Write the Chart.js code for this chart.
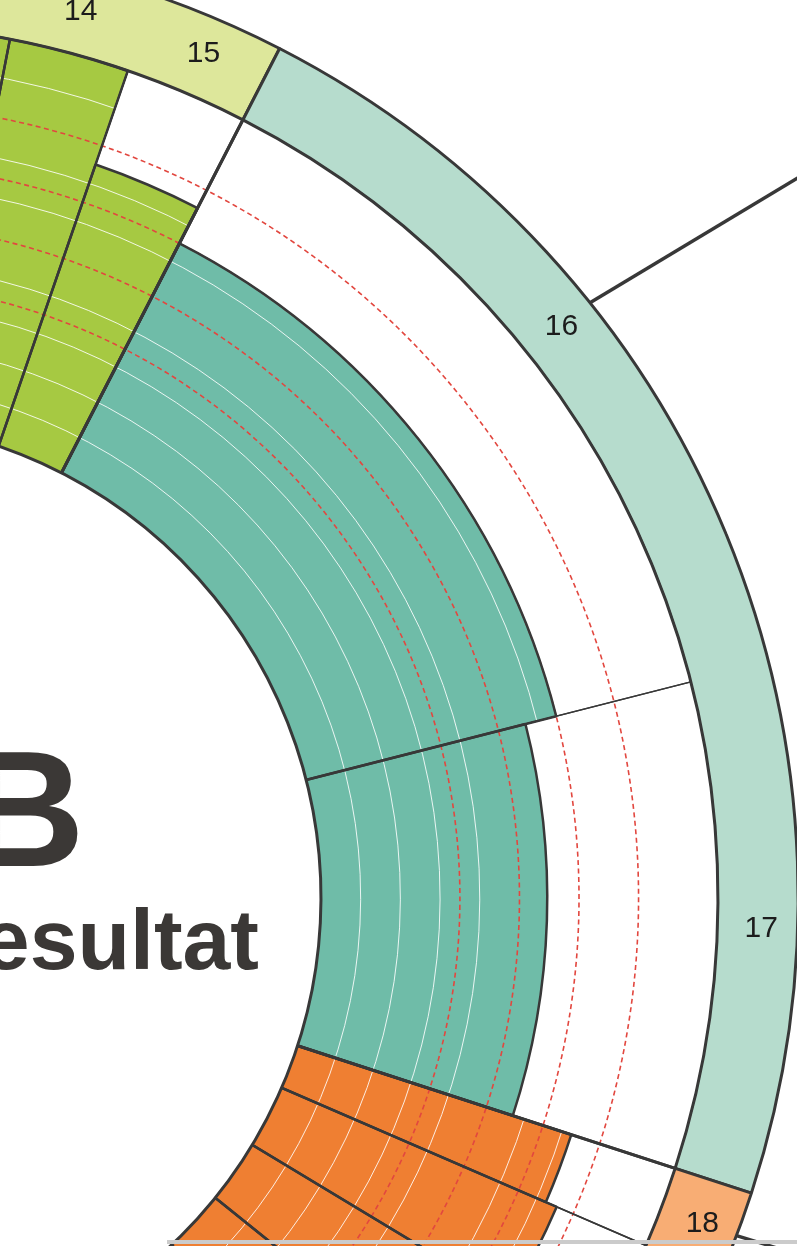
<!DOCTYPE html>
<html><head><meta charset="utf-8">
<script src="https://cdn.jsdelivr.net/npm/chart.js@4.4.1/dist/chart.umd.min.js"></script>
<style>
html,body{margin:0;padding:0;width:797px;height:1246px;overflow:hidden;background:#fff;position:relative}
#wrap{position:absolute;left:-1132px;top:-77px;width:1950px;height:1950px}
.t{position:absolute;font-family:"Liberation Sans",Arial,Helvetica,sans-serif;font-weight:bold;color:#3b3836;line-height:1;white-space:nowrap}
#big{font-size:166px;left:-35px;top:726px}
#sub{font-size:86px;right:538px;top:896px;text-align:right}
#rule{position:absolute;left:167px;top:1240px;width:630px;height:4px;background:#cbcbcb}
</style></head><body>
<div id="wrap"><canvas id="c" width="1950" height="1950"></canvas></div>
<div class="t" id="big">B</div>
<div class="t" id="sub">Resultat</div>
<div id="rule"></div>
<script>
// ---- data ----
const questions       = ['13', '14', '15', '16', '17', '18', '19', '20', '21'];
const questionSpans   = [8, 8, 8.2, 48.5, 32.3, 5.4, 7.7, 7.75, 7.7];   // degrees of the circle
const results         = [100, 100, 75, 65, 57, 72.5, 75.5, 80, 75];     // percent
const questionGroup   = [0, 0, 0, 1, 1, 2, 2, 2, 2];
const gridLevels      = [10, 20, 30, 40, 50, 60, 70, 80, 90];
const referenceLevels = [35, 50, 65, 80];
const leaderQuestions = ['16', '18'];

// ---- styling ----
const barColors  = ['#a6c942', '#6fbca8', '#ef7f32'];
const bandColors = ['#dde79b', '#b6dccd', '#f8ad74'];
const leaderDirection = { '16': -31, '18': 17 };   // degrees
const DARK = '#383838';
const RED = '#e2473f';
const CLEAR = 'rgba(0,0,0,0)';
const START_DEG = 3;          // first slice starts at -87deg (canvas angle)
const FULL = 100, BAND_OUT = 120.2, LABEL_R = 111;

const groupSpans = [];
questionGroup.forEach((g, i) => { groupSpans[g] = (groupSpans[g] || 0) + questionSpans[i]; });
const isRef = v => referenceLevels.includes(v);
const levels = gridLevels.filter(v => !isRef(v)).concat(referenceLevels);

const qAngle = c => questionSpans[c.dataIndex];
const gAngle = c => groupSpans[c.dataIndex];

const datasets = [
  { label: 'hole', data: [0], angle: 360, backgroundColor: '#ffffff', borderColor: DARK, borderWidth: 3, order: 0 },
  { label: 'group borders', data: groupSpans.map(() => FULL), angle: gAngle,
    backgroundColor: CLEAR, borderColor: DARK, borderWidth: 3, order: 1 },
  { label: 'result borders', data: results, angle: qAngle,
    backgroundColor: CLEAR, borderColor: DARK, borderWidth: 2.5, order: 2 },
  { label: 'question borders', data: questions.map(() => FULL), angle: qAngle,
    backgroundColor: CLEAR, borderColor: DARK, borderWidth: 1.5, order: 3 }
];
levels.forEach(v => datasets.push({
  label: 'level ' + v, data: [v], angle: 360, backgroundColor: CLEAR,
  borderColor: isRef(v) ? RED : 'rgba(255,255,255,0.85)',
  borderWidth: isRef(v) ? 1.6 : 1, borderDash: isRef(v) ? [5, 3.5] : [], order: 4
}));
datasets.push(
  { label: 'results', data: results, angle: qAngle,
    backgroundColor: c => barColors[questionGroup[c.dataIndex]], borderWidth: 0, order: 5 },
  { label: 'rest', data: questions.map(() => FULL), angle: qAngle,
    backgroundColor: '#ffffff', borderWidth: 0, order: 6 },
  { label: 'band', data: groupSpans.map(() => BAND_OUT), angle: gAngle,
    backgroundColor: c => bandColors[c.dataIndex], borderColor: DARK, borderWidth: 3, order: 7 }
);

const ringText = {
  id: 'ringText',
  afterDraw(chart) {
    const s = chart.scales.r, ctx = chart.ctx;
    const a0 = (START_DEG - 90) * Math.PI / 180;
    let acc = 0;
    ctx.save();
    ctx.font = '30px "Liberation Sans", Arial, sans-serif';
    ctx.fillStyle = '#1c1c1c';
    ctx.textAlign = 'center';
    ctx.textBaseline = 'middle';
    questions.forEach((q, i) => {
      const mid = a0 + (acc + questionSpans[i] / 2) * Math.PI / 180;
      acc += questionSpans[i];
      const r = s.getDistanceFromCenterForValue(LABEL_R);
      ctx.fillText(q, s.xCenter + Math.cos(mid) * r, s.yCenter + Math.sin(mid) * r + 1);
      if (leaderQuestions.includes(q)) {
        const r1 = s.getDistanceFromCenterForValue(BAND_OUT);
        const x1 = s.xCenter + Math.cos(mid) * r1, y1 = s.yCenter + Math.sin(mid) * r1;
        const d = leaderDirection[q] * Math.PI / 180;
        ctx.beginPath();
        ctx.moveTo(x1, y1);
        ctx.lineTo(x1 + Math.cos(d) * 400, y1 + Math.sin(d) * 400);
        ctx.lineWidth = 3.5;
        ctx.strokeStyle = DARK;
        ctx.stroke();
      }
    });
    ctx.restore();
  }
};

new Chart(document.getElementById('c'), {
  type: 'polarArea',
  data: { labels: questions, datasets },
  options: {
    responsive: false,
    maintainAspectRatio: false,
    animation: false,
    events: [],
    layout: { padding: 0 },
    plugins: { legend: { display: false }, tooltip: { enabled: false }, title: { display: false } },
    scales: {
      r: {
        min: -120.4, max: 125.2,
        startAngle: START_DEG,
        beginAtZero: false,
        ticks: { display: false },
        pointLabels: { display: false },
        angleLines: { display: false },
        grid: { display: false }
      }
    }
  },
  plugins: [ringText]
});
</script>
</body></html>
